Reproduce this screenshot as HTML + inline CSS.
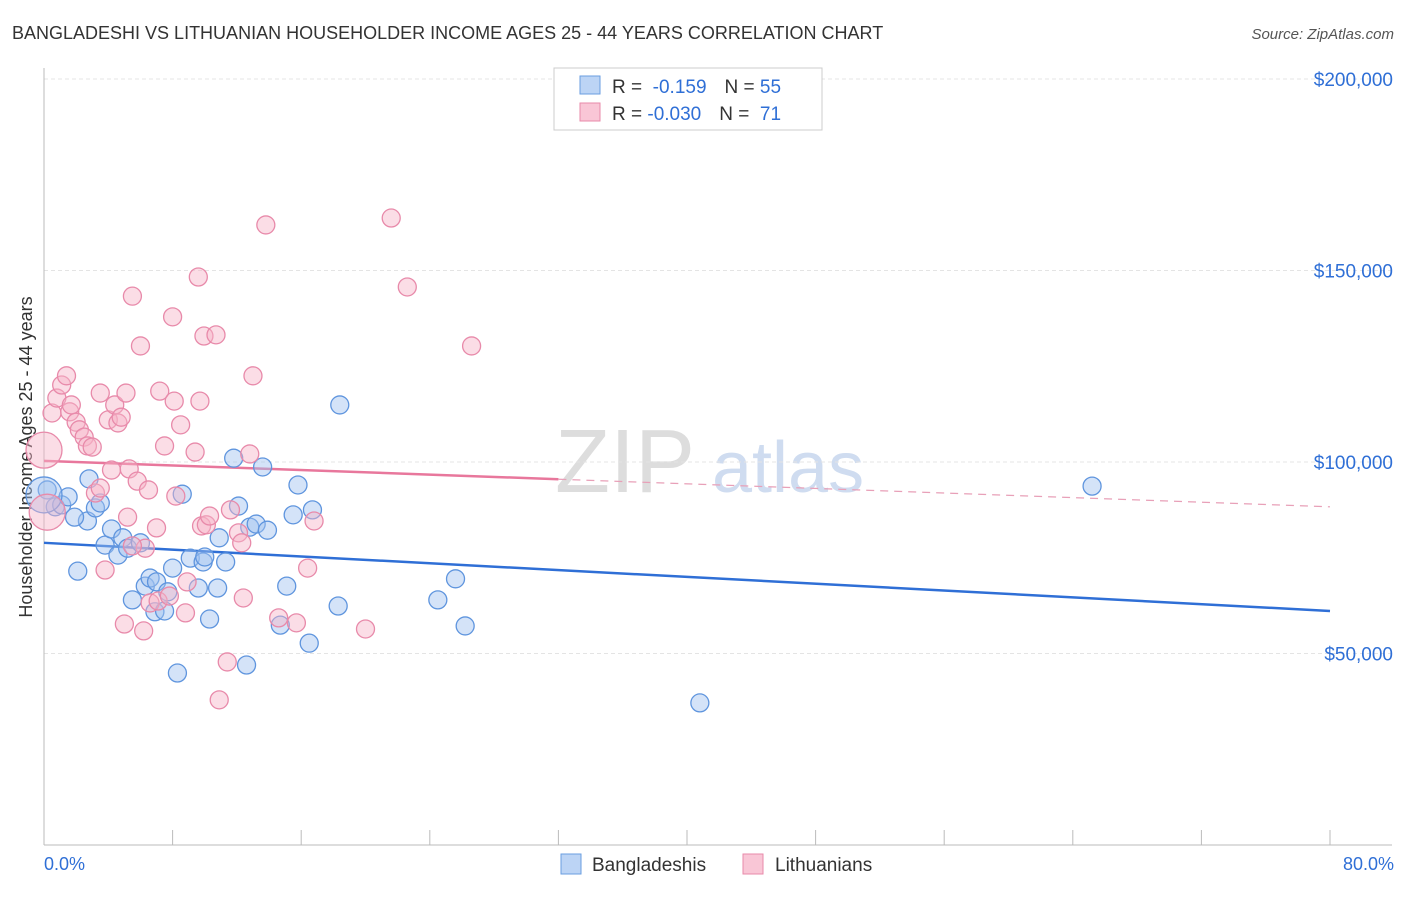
<!DOCTYPE html>
<html><head><meta charset="utf-8">
<style>
body{margin:0;background:#fff;font-family:"Liberation Sans",sans-serif;}
svg text{font-family:"Liberation Sans",sans-serif;}
</style></head>
<body>
<svg id="chart" width="1406" height="892" viewBox="0 0 1406 892">
<text x="12" y="39" font-size="18" fill="#333">BANGLADESHI VS LITHUANIAN HOUSEHOLDER INCOME AGES 25 - 44 YEARS CORRELATION CHART</text>
<text x="1394" y="39" font-size="15" fill="#555" font-style="italic" text-anchor="end">Source: ZipAtlas.com</text>
<text x="32" y="457" font-size="18" fill="#333" text-anchor="middle" transform="rotate(-90 32 457)">Householder Income Ages 25 - 44 years</text>
<text x="555" y="492" font-size="90" fill="#ddd" font-family="Liberation Serif">ZIP</text>
<text x="712" y="492" font-size="72" fill="#cfdcf0">atlas</text>
<g id="grid"></g>
<g id="axes"></g>
<g id="lines"></g>
<g id="pts"></g>
<g>
<rect x="554" y="68" width="268" height="62" fill="#fff" stroke="#ccc"/>
<rect x="580" y="76" width="20" height="18" fill="#bcd4f5" stroke="#6a9ee0"/>
<rect x="580" y="103" width="20" height="18" fill="#f9c6d6" stroke="#e88aaa"/>
<text x="612" y="93" font-size="19" fill="#333">R = <tspan fill="#2f6fd6">&#160;-0.159</tspan><tspan dx="18">N = </tspan><tspan fill="#2f6fd6">55</tspan></text>
<text x="612" y="120" font-size="19" fill="#333">R = <tspan fill="#2f6fd6">-0.030</tspan><tspan dx="18">N = </tspan><tspan fill="#2f6fd6">&#160;71</tspan></text>
</g>
<g>
<rect x="561" y="854" width="20" height="20" fill="#bcd4f5" stroke="#6a9ee0"/>
<text x="592" y="871" font-size="19" fill="#333">Bangladeshis</text>
<rect x="743" y="854" width="20" height="20" fill="#f9c6d6" stroke="#e88aaa"/>
<text x="775" y="871" font-size="19" fill="#333">Lithuanians</text>
</g>
<text x="44" y="870" font-size="18" fill="#2f6fd6">0.0%</text>
<text x="1394" y="870" font-size="18" fill="#2f6fd6" text-anchor="end">80.0%</text>
</svg>
<script>
const yTicks=[50000,100000,150000,200000];
const yTickLabels=["$50,000","$100,000","$150,000","$200,000"];
const xTicks=[0,8,16,24,32,40,48,56,64,72,80];
const blueX=[0.2,0.7,1.1,1.5,2.7,2.8,3.2,3.5,1.9,2.1,3.8,4.2,4.6,4.9,5.2,5.5,6.0,6.3,6.6,7.0,6.9,7.5,7.7,8.0,8.3,8.6,9.1,9.6,9.9,10.0,10.3,10.8,10.9,11.3,11.8,12.1,12.6,12.8,13.2,13.6,13.9,14.7,15.1,15.5,15.8,16.5,16.7,18.3,18.4,24.5,25.6,26.2,40.8,65.2,0];
const blueY=[92.7,88.3,88.8,90.9,84.6,95.6,88.0,89.3,85.6,71.5,78.3,82.5,75.7,80.2,77.5,64.0,78.9,67.6,69.7,68.7,60.9,61.1,66.1,72.3,44.9,91.6,74.9,67.1,73.9,75.2,59.0,67.1,80.2,73.9,101.0,88.5,47.0,83.0,83.8,98.7,82.2,57.4,67.6,86.2,94.0,52.7,87.5,62.4,114.9,64.0,69.5,57.2,37.1,93.7,91.4];
const pinkX=[0,0.2,0.5,0.8,1.1,1.4,1.6,1.7,2.0,2.2,2.5,2.7,3.0,3.2,3.5,3.5,3.8,4.0,4.2,4.4,4.6,4.8,5.0,5.1,5.3,5.5,5.8,6.0,6.2,6.3,6.5,6.6,7.0,7.1,7.2,7.5,7.8,8.0,8.1,8.2,8.5,8.8,8.9,9.4,9.6,9.7,9.8,9.95,10.1,10.3,10.7,10.9,11.4,11.6,12.1,12.3,12.4,12.8,13.0,13.8,14.6,15.7,16.4,16.8,20.0,21.6,22.6,26.6,5.2,5.5];
const pinkY=[103.1,86.9,112.8,116.7,120.1,122.5,113.1,114.9,110.4,108.4,106.5,104.2,103.9,91.9,93.2,118.0,71.8,111.0,97.9,114.9,110.2,111.7,57.7,118.0,98.2,143.3,95.0,130.3,55.9,77.5,92.7,63.2,82.8,63.7,118.5,104.2,65.0,137.9,115.9,91.1,109.7,60.6,68.7,102.6,148.3,115.9,83.3,132.9,83.6,85.9,133.2,37.9,47.8,87.5,81.5,78.9,64.5,102.1,122.5,161.9,59.3,58.0,72.3,84.6,56.4,163.7,145.7,130.3,85.6,78.1];
const blueTrend=[78.9,61.1];
const pinkTrend=[100.3,88.3];
const pinkSolidEnd=32;
const NS="http://www.w3.org/2000/svg";
const xs=v=>44+v*(1330-44)/80;
const ys=v=>845-v/50000*191.5;
const yk=v=>ys(v*1000);
function mk(tag,attrs,parent){const e=document.createElementNS(NS,tag);for(const k in attrs)e.setAttribute(k,attrs[k]);parent.appendChild(e);return e;}
const grid=document.getElementById('grid'),axes=document.getElementById('axes'),lines=document.getElementById('lines'),pts=document.getElementById('pts');
yTicks.forEach((t,i)=>{
 const l=mk('line',{x1:44,x2:1392,y1:ys(t),y2:ys(t),stroke:'#e4e4e4','stroke-dasharray':'4,3'},grid);
 
 
 const tx=mk('text',{x:1393,y:ys(t)+7,'font-size':19,fill:'#2f6fd6','text-anchor':'end'},axes);
 tx.textContent=yTickLabels[i];
 
 
});
const topLine=mk('line',{x1:44,x2:1392,y1:ys(200000)-2,y2:ys(200000)-2,stroke:'#fff'},grid);
const ax=mk('line',{x1:44,x2:44,y1:68,y2:845,stroke:'#bbb'},axes);


const bx=mk('line',{x1:44,x2:1392,y1:845,y2:845,stroke:'#bbb'},axes);


xTicks.forEach(t=>{
 const l=mk('line',{x1:xs(t),x2:xs(t),y1:830,y2:845,stroke:'#bbb'},axes);
 
 
});
function dot(x,y,r,fill,stroke,name){
 const c=mk('circle',{cx:xs(x),cy:yk(y),r:r,fill:fill,'fill-opacity':0.45,stroke:stroke,'stroke-width':1.3},pts);
 
 
}
blueX.forEach((x,i)=>dot(x,blueY[i],(x===0?18:9),'#9fc2ef','#5f95de','bangladeshi-point'));
pinkX.forEach((x,i)=>dot(x,pinkY[i],(x===0||(x<0.3&&pinkY[i]<90))?18:9,'#f6b3c8','#e88aaa','lithuanian-point'));
const bl=mk('line',{x1:xs(0),y1:yk(blueTrend[0]),x2:xs(80),y2:yk(blueTrend[1]),stroke:'#2f6fd6','stroke-width':2.5},lines);


const pm=pinkTrend[0]+(pinkTrend[1]-pinkTrend[0])*pinkSolidEnd/80;
const pl=mk('line',{x1:xs(0),y1:yk(pinkTrend[0]),x2:xs(pinkSolidEnd),y2:yk(pm),stroke:'#e8779c','stroke-width':2.5},lines);


const pd=mk('line',{x1:xs(pinkSolidEnd),y1:yk(pm),x2:xs(80),y2:yk(pinkTrend[1]),stroke:'#e8a0b8','stroke-width':1.2,'stroke-dasharray':'8,6'},lines);


</script>
</body></html>
